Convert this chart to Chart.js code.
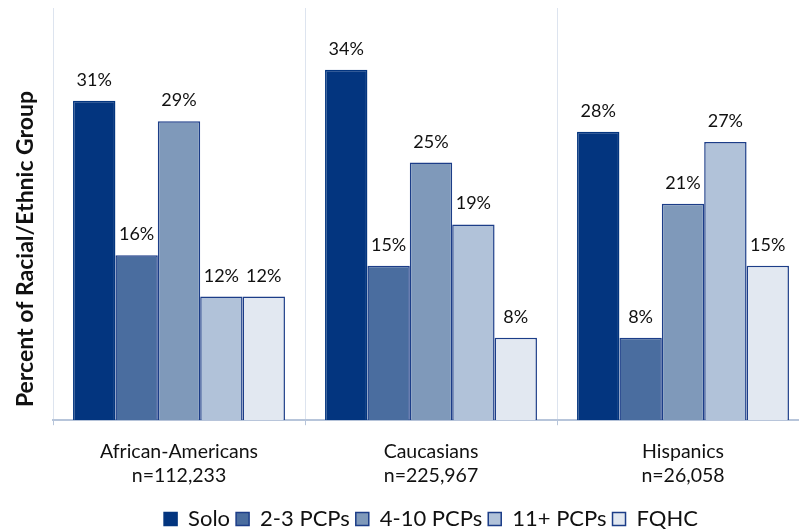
<!DOCTYPE html>
<html>
<head>
<meta charset="utf-8">
<script src="https://cdn.jsdelivr.net/npm/chart.js@4.4.1/dist/chart.umd.min.js"></script>
<style>
  html, body { margin: 0; padding: 0; background: #fff; overflow: hidden; }
  #wrap { width: 812px; height: 540px; }
</style>
</head>
<body>
<div id="wrap"><canvas id="pcpChart"></canvas></div>
<script>
// Practice type by racial/ethnic group (percent)
const groups = [
  ['African-Americans', 'n=112,233'],
  ['Caucasians', 'n=225,967'],
  ['Hispanics', 'n=26,058']
];
const practiceTypes = ['Solo', '2-3 PCPs', '4-10 PCPs', '11+ PCPs', 'FQHC'];
const solo     = [31, 34, 28];
const pcps2to3 = [16, 15, 8];
const pcps4to10 = [29, 25, 21];
const pcps11   = [12, 19, 27];
const fqhc     = [12, 8, 15];

const series = [solo, pcps2to3, pcps4to10, pcps11, fqhc];
const fills = ['#03357f', '#4a6d9f', '#7f99ba', '#b1c2d9', '#e2e8f1'];
const edges = ['#03357f', '#1c3d88', '#1c3d88', '#1c3d88', '#1c3d88'];

const FONT = 'Lato, "Noto Sans", sans-serif';

// value labels above each bar
const barLabels = {
  id: 'barLabels',
  afterDatasetsDraw(chart) {
    const ctx = chart.ctx;
    ctx.save();
    ctx.font = '18px ' + FONT;
    ctx.fillStyle = '#111';
    ctx.textAlign = 'center';
    ctx.textBaseline = 'alphabetic';
    chart.data.datasets.forEach((ds, i) => {
      chart.getDatasetMeta(i).data.forEach((bar, j) => {
        ctx.fillText(ds.data[j] + '%', bar.x, bar.y - 15);
      });
    });
    ctx.restore();
  }
};

// rotated y axis title
const yTitle = {
  id: 'yTitle',
  afterDraw(chart) {
    const ctx = chart.ctx;
    ctx.save();
    ctx.translate(33, 249);
    ctx.rotate(-Math.PI / 2);
    ctx.font = 'bold 23px ' + FONT;
    ctx.fillStyle = '#111';
    ctx.textAlign = 'center';
    ctx.textBaseline = 'alphabetic';
    ctx.fillText('Percent of Racial/Ethnic Group', 0, 0);
    ctx.restore();
  }
};

new Chart(document.getElementById('pcpChart'), {
  type: 'bar',
  data: {
    labels: groups,
    datasets: practiceTypes.map((name, i) => ({
      label: name,
      data: series[i],
      backgroundColor: fills[i],
      borderColor: edges[i],
      borderWidth: 1.5,
      categoryPercentage: 0.841,
      barPercentage: 1
    }))
  },
  options: {
    responsive: true,
    maintainAspectRatio: false,
    animation: false,
    layout: { padding: { left: 53, right: 3, top: 8, bottom: 0 } },
    plugins: {
      tooltip: { enabled: false },
      legend: {
        position: 'bottom',
        fullSize: false,
        labels: {
          boxWidth: 13,
          boxHeight: 13,
          padding: 6,
          color: '#111',
          font: { family: FONT, size: 22 }
        }
      }
    },
    scales: {
      x: {
        grid: {
          color: '#dde4ef',
          tickColor: '#b7c5da',
          tickLength: 5,
          offset: true
        },
        border: { color: '#b7c5da', width: 2 },
        ticks: {
          color: '#111',
          padding: 15,
          font: { family: FONT, size: 19.5 }
        }
      },
      y: {
        display: false,
        min: 0,
        max: 40
      }
    }
  },
  plugins: [barLabels, yTitle]
});
</script>
</body>
</html>
